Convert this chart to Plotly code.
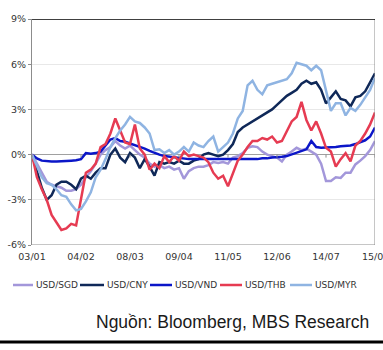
import plotly.graph_objects as go

tick_labels = ["03/01", "04/02", "08/03", "09/04", "11/05", "12/06", "14/07", "15/08"]
n_points = 71
x_idx = list(range(n_points))
tick_idx = [0, 10, 20, 30, 40, 50, 60, 70]

usd_sgd = [0, -0.6, -1.3, -1.8, -2.0, -2.1, -2.2, -2.4, -2.4, -2.3,
           -2.0, -1.5, -1.1, -0.6, 0.0, 0.3, 0.5, 0.9, 0.6, 0.4,
           0.6, 0.3, 0.0, -0.2, -0.6, -0.8, -0.7, -0.9, -0.8, -1.0,
           -0.9, -1.6, -1.1, -0.9, -0.8, -0.8, -0.7, -0.5, -0.55, -0.5,
           -0.6, -0.2, -0.1, 0.1, 0.45, 0.55, 0.5, 0.2, 0.0, -0.1,
           -0.2, -0.45, 0.0, 0.2, 0.45, 0.3, 0.4, 0.2, 0.0, -0.6,
           -1.75, -1.75, -1.5, -1.55, -1.2, -1.2, -0.65, -0.4, -0.1, 0.3,
           0.9]
usd_cny = [0, -1.1, -2.2, -3.0, -2.7, -2.0, -1.8, -1.8, -2.0, -2.3,
           -1.6, -1.4, -1.6, -1.2, -0.9, -0.9, 0.0, 0.4, -0.2, -0.5,
           0.1, -0.2, -0.9, -0.3, -0.8, -1.4, -0.5, -0.6, -0.5, -0.6,
           -0.4, -0.6, -0.6, -0.4, -0.3, 0.0, 0.1, 0.0, -0.1, 0.0,
           0.3, 0.7, 1.5, 1.8, 2.0, 2.2, 2.4, 2.6, 2.8, 3.0,
           3.3, 3.6, 3.9, 4.1, 4.3, 4.7, 4.9, 4.7, 4.8, 4.3,
           3.4, 3.8, 4.2, 3.7, 3.6, 3.2, 3.8, 3.9, 4.2, 4.8,
           5.4]
usd_vnd = [0, -0.25, -0.4, -0.45, -0.45, -0.45, -0.45, -0.42, -0.4, -0.38,
           -0.3, 0.1, 0.05, 0.1, 0.2, 0.6, 1.0, 1.1, 0.9, 0.85,
           0.75, 0.65, 0.55, 0.4, 0.25, 0.1, 0.0, -0.1, -0.15, -0.2,
           -0.25, -0.25, -0.3, -0.3, -0.3, -0.35, -0.35, -0.35, -0.35, -0.35,
           -0.35, -0.35, -0.3, -0.3, -0.3, -0.3, -0.3, -0.25, -0.25, -0.2,
           -0.2, -0.15, -0.1, 0.0, 0.1, 0.2, 0.35, 0.9, 0.5, 0.45,
           0.45, 0.5, 0.5, 0.55, 0.6, 0.6, 0.7, 0.8, 0.95, 1.2,
           1.8]
usd_thb = [0, -1.5, -2.3, -3.0, -4.0, -4.5, -5.0, -4.9, -4.6, -4.7,
           -3.0, -1.2, -1.0, -0.6, 0.5, 0.7, 1.4, 2.4, 1.6, 0.8,
           0.7, 2.0, 0.4, 0.0, -1.0, -0.6, -0.9, -0.1, -0.5, -0.1,
           -0.4, 0.2, -0.1, 0.0, -0.1, -0.2, -0.5, -1.2, -1.6, -1.4,
           -2.1, -1.3, -0.4, 0.0, 0.5, 0.9, 0.9, 1.1, 1.0, 1.2,
           0.8, 0.9, 1.6, 2.2, 2.5, 3.5, 2.3, 1.6, 2.2, 1.4,
           0.45, 0.2, -0.8, -0.3, 0.1, -0.45, 0.6, 0.9, 1.4, 2.0,
           2.8]
usd_myr = [0, -0.8, -1.5, -1.9, -2.0, -2.3, -2.7, -2.8, -3.3, -3.7,
           -3.6, -3.1, -2.5, -1.5, -1.0, -0.3, 0.5, 1.1, 1.6, 2.0,
           2.5, 2.2, 2.1, 1.8, 1.4, 0.3, 0.35, 0.1, 0.3, 0.0,
           0.2, 0.5, 0.2, 0.8, 0.6, 0.5, 0.9, 1.2, 0.2, 0.5,
           0.8, 1.4, 2.4, 2.9, 4.6, 4.9, 4.3, 4.0, 4.6, 4.7,
           4.8, 4.9, 5.0, 5.4, 6.1, 6.0, 5.9, 5.6, 5.9, 5.6,
           4.2, 2.9, 3.4, 3.4, 2.6, 3.1, 2.9, 3.3, 3.8, 4.3,
           5.1]

names = ["USD/SGD", "USD/CNY", "USD/VND", "USD/THB", "USD/MYR"]
series = [usd_sgd, usd_cny, usd_vnd, usd_thb, usd_myr]
colors = ["#A397DA", "#0F2858", "#0B16C8", "#E63B52", "#8FB4E2"]

fig = go.Figure()
for name, vals, col in zip(names, series, colors):
    fig.add_trace(go.Scatter(x=x_idx, y=vals, mode="lines", name=name,
                             line=dict(color=col, width=2.5), showlegend=False))

# plot-area pixel geometry
L, R, T, B = 32, 375, 19, 245
W, H = R - L, B - T
def px(xp):
    return (xp - L) / W
def py(yp):
    return (B - yp) / H

shapes = []
# borders
shapes.append(dict(type="line", xref="x", yref="y", x0=0, x1=70, y0=-6, y1=-6,
                   line=dict(color="#8C8C8C", width=1)))
shapes.append(dict(type="line", xref="x", yref="y", x0=70, x1=70, y0=-6, y1=9,
                   line=dict(color="#8C8C8C", width=1)))
shapes.append(dict(type="line", xref="x", yref="y", x0=0, x1=70, y0=9, y1=9,
                   line=dict(color="#000000", width=1.5)))
# small ticks on zero line
for t in tick_idx:
    shapes.append(dict(type="line", xref="x", yref="y", x0=t, x1=t, y0=0, y1=-0.2,
                       line=dict(color="#8C8C8C", width=1)))

annotations = []
# last category label, which runs off the right edge as in the original
annotations.append(dict(xref="x", yref="paper", x=tick_idx[-1], y=py(256),
                        text=tick_labels[-1], showarrow=False, xanchor="center",
                        yanchor="middle",
                        font=dict(family="DejaVu Sans", size=9.5, color="#333333")))

# manual legend
leg_y = 285
leg_items = [(13, 33), (80, 104), (150, 172), (220, 242), (290, 312)]
for (x0, x1), name, col in zip(leg_items, names, colors):
    shapes.append(dict(type="line", xref="paper", yref="paper",
                       x0=px(x0), x1=px(x1), y0=py(leg_y), y1=py(leg_y),
                       line=dict(color=col, width=2.5)))
    annotations.append(dict(xref="paper", yref="paper", x=px(x1 + 1), y=py(leg_y),
                            text=name, showarrow=False, xanchor="left", yanchor="middle",
                            font=dict(family="DejaVu Sans", size=9, color="#333333")))

# source
annotations.append(dict(xref="paper", yref="paper", x=px(371), y=py(322),
                        text="Nguồn: Bloomberg, MBS Research", showarrow=False,
                        xanchor="right", yanchor="middle",
                        font=dict(family="Liberation Sans", size=17.5, color="#1a1a1a")))
shapes.append(dict(type="line", xref="paper", yref="paper",
                   x0=px(0), x1=px(383), y0=py(342), y1=py(342),
                   line=dict(color="#000000", width=3)))

fig.update_layout(
    width=383, height=350,
    margin=dict(l=L, r=383 - R, t=T, b=350 - B),
    paper_bgcolor="white", plot_bgcolor="white",
    shapes=shapes, annotations=annotations,
    xaxis=dict(range=[0, 70], tickmode="array", tickvals=tick_idx[:-1],
               ticktext=tick_labels[:-1],
               showgrid=False, zeroline=False, showline=False, ticks="",
               tickfont=dict(family="DejaVu Sans", size=9.5, color="#333333"),
               ticklabelstandoff=4),
    yaxis=dict(range=[-6, 9], tickmode="array", tickvals=[-6, -3, 0, 3, 6, 9],
               ticktext=["-6%", "-3%", "0%", "3%", "6%", "9%"],
               showgrid=True, gridcolor="#E8E8E8", gridwidth=1,
               zeroline=True, zerolinecolor="#A0A0A0", zerolinewidth=1.2,
               showline=True, linecolor="#8C8C8C", linewidth=1,
               ticks="outside", ticklen=3, tickcolor="#8C8C8C",
               tickfont=dict(family="DejaVu Sans", size=9.5, color="#333333")),
)

fig.write_html("out.html")
